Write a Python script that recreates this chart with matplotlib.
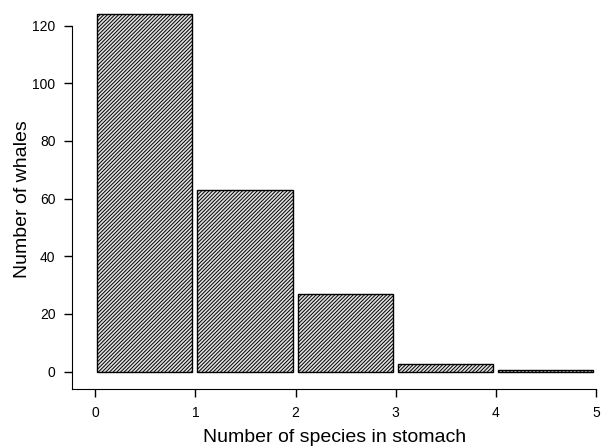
import numpy as np
import matplotlib
matplotlib.use("Agg")
import matplotlib.pyplot as plt

plt.rcParams['font.family'] = ['Liberation Sans', 'DejaVu Sans']
plt.rcParams['hatch.linewidth'] = 0.7
plt.rcParams['hatch.color'] = '#2a2a2a'

species = np.array([0, 1, 2, 3, 4])
whales = np.array([124, 63, 27, 2.5, 0.5])
xticks = [0, 1, 2, 3, 4, 5]
yticks = [0, 20, 40, 60, 80, 100, 120]

fig = plt.figure(figsize=(6.02, 4.46), dpi=100)
ax = fig.add_axes([0.12, 0.128, 0.87, 0.85])

ax.bar(species + 0.02, whales, width=0.95, align='edge', color='#e0e0e0',
       edgecolor='black', linewidth=1.0, hatch='/////////')

ax.set_xlim(-0.23, 5.0)
ax.set_ylim(-6, 125.5)
ax.set_xticks(xticks)
ax.set_yticks(yticks)
ax.spines['top'].set_visible(False)
ax.spines['right'].set_visible(False)
ax.spines['left'].set_bounds(-6, 120)
ax.tick_params(direction='out', length=6, width=1, labelsize=10, pad=6)
ax.set_xlabel('Number of species in stomach', fontsize=14, labelpad=7)
ax.set_ylabel('Number of whales', fontsize=14, labelpad=1)

fig.savefig('out.png', dpi=100)
